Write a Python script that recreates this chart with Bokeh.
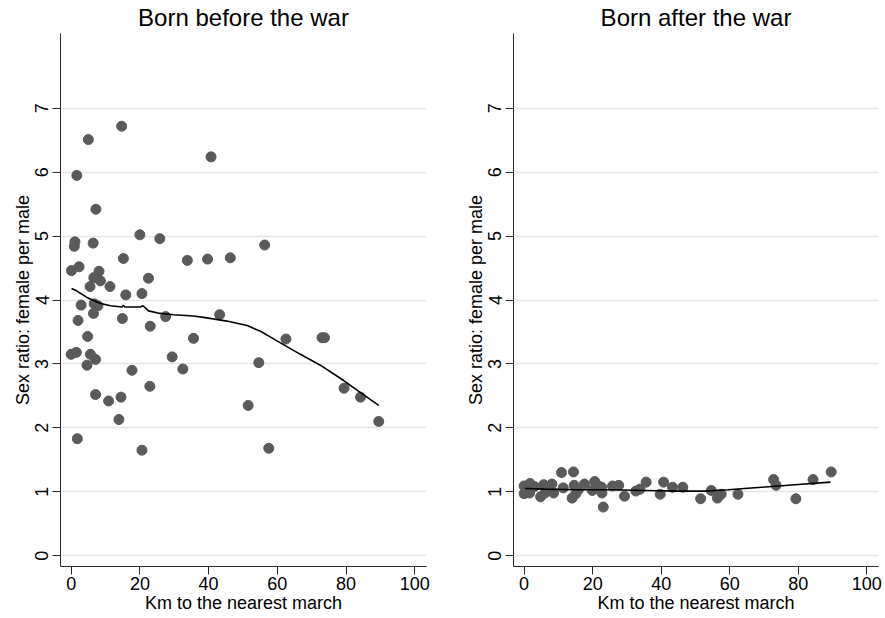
from bokeh.plotting import figure
from bokeh.layouts import row
from bokeh.models import Range1d, FixedTicker
from bokeh.embed import file_html
from bokeh.resources import INLINE

# ---- Data ----
before_km = [14.7, 5.0, 1.65, 40.7, 7.2, 1.1, 0.9, 6.4, 20.0, 25.8, 56.3, 15.2, 33.8, 39.7, 46.3,
             0.1, 2.3, 8.1, 6.6, 8.5, 22.5, 5.5, 11.3, 15.9, 20.6, 2.9, 6.7, 7.8,
             6.5, 2.0, 14.9, 23.0, 27.5, 43.2, 4.8, 35.6, 62.5, 73.0, 73.7, 0.0, 1.5, 5.6, 7.1,
             4.6, 29.4, 32.5, 17.7, 54.6, 22.9, 7.1, 10.9, 14.5, 79.4, 84.2, 51.5, 13.9, 89.5,
             1.8, 20.6, 57.5]
before_ratio = [6.72, 6.51, 5.95, 6.24, 5.42, 4.91, 4.84, 4.89, 5.02, 4.96, 4.86, 4.65, 4.62, 4.64, 4.66,
                4.46, 4.52, 4.45, 4.35, 4.30, 4.34, 4.21, 4.21, 4.08, 4.10, 3.92, 3.94, 3.91,
                3.79, 3.68, 3.71, 3.59, 3.74, 3.77, 3.43, 3.40, 3.39, 3.41, 3.41, 3.15, 3.18, 3.15, 3.07,
                2.98, 3.11, 2.92, 2.90, 3.02, 2.65, 2.52, 2.42, 2.48, 2.62, 2.48, 2.35, 2.13, 2.10,
                1.83, 1.65, 1.68]

before_fit_km = [0.1, 1.7, 4.6, 7.5, 8.4, 11.4, 14.8, 15.2, 15.6, 20.1, 20.9, 22.5, 25.9, 29.8,
                 35.6, 39.5, 45.3, 51.2, 55.1, 59.9, 66.7, 72.5, 79.3, 84.2, 89.5]
before_fit_ratio = [4.18, 4.14, 4.04, 3.97, 3.95, 3.91, 3.89, 3.92, 3.89, 3.89, 3.91, 3.83, 3.79, 3.77,
                    3.75, 3.72, 3.67, 3.60, 3.51, 3.36, 3.15, 2.98, 2.74, 2.55, 2.35]

after_km = [0.0, 0.0, 1.7, 1.6, 3.0, 4.8, 5.7, 6.1, 7.1, 8.1, 8.6, 10.9, 11.4, 14.4, 14.0, 14.6,
            15.1, 15.8, 17.6, 20.6, 19.9, 21.7, 22.6, 22.7, 23.1, 25.8, 27.6, 29.3, 32.6, 33.8,
            35.6, 39.7, 40.7, 43.3, 46.3, 51.5, 54.6, 56.4, 57.5, 62.4, 72.8, 73.5, 79.3, 84.3, 89.6]
after_ratio = [1.09, 0.97, 1.13, 0.98, 1.08, 0.92, 1.11, 0.98, 1.07, 1.12, 0.98, 1.30, 1.06, 1.31, 0.90, 1.10,
               0.97, 1.03, 1.12, 1.16, 1.02, 1.09, 1.07, 0.98, 0.76, 1.09, 1.10, 0.93, 1.01, 1.04,
               1.15, 0.96, 1.15, 1.07, 1.07, 0.89, 1.02, 0.90, 0.96, 0.96, 1.19, 1.10, 0.89, 1.19, 1.31]

after_fit_km = [0.3, 6.1, 15.8, 25.5, 35.2, 45.0, 52.7, 59.5, 69.2, 79.0, 89.4]
after_fit_ratio = [1.05, 1.04, 1.03, 1.03, 1.02, 1.01, 1.01, 1.03, 1.07, 1.11, 1.15]

x_ticks = [0, 20, 40, 60, 80, 100]
y_ticks = [0, 1, 2, 3, 4, 5, 6, 7]
titles = ["Born before the war", "Born after the war"]
x_label = "Km to the nearest march"
y_label = "Sex ratio: female per male"

FONT = "Liberation Sans"
MARK = "#5a5a5a"
AXIS = "#2b2b2b"


def make_panel(title, xs, ys, fx, fy, width, border_left, border_right):
    p = figure(width=width, height=616, output_backend="svg", toolbar_location=None,
               x_range=Range1d(-3.1, 103.4), y_range=Range1d(-0.17, 8.17),
               min_border_left=border_left, min_border_right=border_right,
               min_border_top=33, min_border_bottom=50)
    p.outline_line_color = None
    p.background_fill_color = "white"
    p.border_fill_color = "white"

    p.title.text = title
    p.title.align = "center"
    p.title.vertical_align = "top"
    p.title.text_font = FONT
    p.title.text_font_size = "24px"
    p.title.text_font_style = "normal"
    p.title.text_color = "black"
    p.title.standoff = 2

    p.xgrid.grid_line_color = None
    p.ygrid.grid_line_color = "#e6e6e6"
    p.ygrid.grid_line_width = 1.5

    p.xaxis.ticker = FixedTicker(ticks=x_ticks)
    p.yaxis.ticker = FixedTicker(ticks=y_ticks)
    for ax in (p.xaxis[0], p.yaxis[0]):
        ax.axis_line_color = AXIS
        ax.major_tick_line_color = AXIS
        ax.major_tick_out = 8
        ax.major_tick_in = 0
        ax.minor_tick_line_color = None
        ax.major_label_text_font = FONT
        ax.major_label_text_font_size = "18px"
        ax.major_label_text_color = "black"
        ax.axis_label_text_font = FONT
        ax.axis_label_text_font_size = "18px"
        ax.axis_label_text_font_style = "normal"
        ax.axis_label_text_color = "black"
        ax.axis_label_standoff = 0
        ax.major_label_standoff = 2
    p.xaxis.axis_label = x_label
    p.yaxis.axis_label = y_label
    p.yaxis.major_label_orientation = "vertical"
    p.yaxis.major_label_standoff = 4

    p.scatter(xs, ys, size=10, fill_color=MARK, line_color=MARK)
    p.line(fx, fy, line_color="black", line_width=1.6)
    return p


p1 = make_panel(titles[0], before_km, before_ratio, before_fit_km, before_fit_ratio, 440, 60, 14)
p2 = make_panel(titles[1], after_km, after_ratio, after_fit_km, after_fit_ratio, 442, 73, 4)

layout = row(p1, p2)
open("out.html", "w").write(file_html(layout, INLINE))
